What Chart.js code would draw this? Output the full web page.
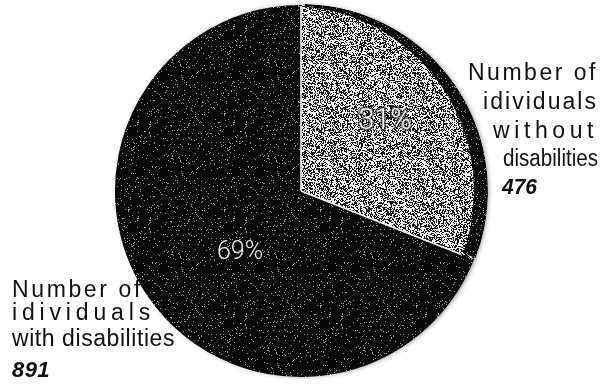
<!DOCTYPE html>
<html>
<head>
<meta charset="utf-8">
<script src="https://cdn.jsdelivr.net/npm/chart.js@4.4.1/dist/chart.umd.min.js"></script>
<style>
  html, body { margin: 0; padding: 0; background: #fff; }
  #pie { display: block; }
</style>
</head>
<body>
<canvas id="pie" width="604" height="389"></canvas>
<script>
// Categories (multi-line), share of the pie in percent, and head counts
const categories = [
  ['Number of', 'idividuals', 'without', 'disabilities'],
  ['Number of', 'idividuals', 'with disabilities']
];
const shares = [31, 69];
const counts = [476, 891];

// Grainy fill, like a photocopied screen tone
function grainPattern(dark, light, ratio, seed) {
  const c = document.createElement('canvas');
  c.width = 96; c.height = 96;
  const g = c.getContext('2d');
  const img = g.createImageData(96, 96);
  for (let j = 0; j < 96; j++) {
    for (let i = 0; i < 96; i++) {
      const s = Math.sin((i + seed) * 12.9898 + (j + seed * 3) * 78.233) * 43758.5453;
      const v = s - Math.floor(s);
      const col = v < ratio ? dark : light;
      const k = (j * 96 + i) * 4;
      img.data[k] = img.data[k + 1] = img.data[k + 2] = col;
      img.data[k + 3] = 255;
    }
  }
  g.putImageData(img, 0, 0);
  return g.createPattern(c, 'repeat');
}

const ctxMain = document.getElementById('pie').getContext('2d');
const lightTone = grainPattern(25, 240, 0.47, 1);
const darkTone = grainPattern(8, 150, 0.95, 7);

// draw text stretched or squeezed to a given width, left edge at x
function fitText(ctx, text, x, y, width) {
  ctx.save();
  ctx.letterSpacing = '0px';
  const w0 = ctx.measureText(text).width;
  ctx.textAlign = 'left';
  if (width >= w0) {
    ctx.letterSpacing = ((width - w0) / text.length) + 'px';
    ctx.fillText(text, x, y);
  } else {
    ctx.translate(x, y);
    ctx.scale(width / w0, 1);
    ctx.fillText(text, 0, 0);
  }
  ctx.restore();
}

const pieDecor = {
  id: 'pieDecor',
  beforeDatasetsDraw(chart) {
    const arc = chart.getDatasetMeta(0).data[0];
    const ctx = chart.ctx;
    // soft fuzzy rim around the disc
    ctx.save();
    ctx.shadowColor = 'rgba(0,0,0,0.5)';
    ctx.shadowBlur = 5;
    ctx.shadowOffsetX = 2;
    ctx.fillStyle = '#0a0a0a';
    ctx.beginPath();
    ctx.arc(arc.x, arc.y, arc.outerRadius - 1, 0, Math.PI * 2);
    ctx.fill();
    ctx.restore();
  },
  afterDatasetsDraw(chart) {
    const meta = chart.getDatasetMeta(0);
    const arc = meta.data[0];
    const ctx = chart.ctx;
    const R = arc.outerRadius;

    // dark crescent along the outer edge of the light wedge
    ctx.save();
    ctx.beginPath();
    ctx.moveTo(arc.x, arc.y);
    ctx.arc(arc.x, arc.y, R + 1, arc.startAngle + 0.02, arc.endAngle - 0.01);
    ctx.closePath();
    ctx.clip();
    ctx.beginPath();
    ctx.arc(arc.x, arc.y, R + 1, 0, Math.PI * 2);
    ctx.arc(arc.x - 12, arc.y, R - 1, 0, Math.PI * 2, true);
    ctx.fillStyle = darkTone;
    ctx.fill('evenodd');
    ctx.restore();

    // white radial edges of the light wedge
    ctx.save();
    ctx.strokeStyle = '#f2f2f2';
    ctx.lineWidth = 1.6;
    [arc.startAngle, arc.endAngle].forEach((a, i) => {
      const len = i === 0 ? R - 1 : R - 14;
      ctx.beginPath();
      ctx.moveTo(arc.x, arc.y);
      ctx.lineTo(arc.x + Math.cos(a) * len, arc.y + Math.sin(a) * len);
      ctx.stroke();
    });
    ctx.restore();

    // percentages inside the slices
    ctx.save();
    ctx.textBaseline = 'middle';
    ctx.textAlign = 'center';
    ctx.font = '300 29px Roboto, "Liberation Sans", sans-serif';
    ctx.lineJoin = 'round';
    ctx.lineWidth = 4;
    ctx.strokeStyle = 'rgba(30,30,30,0.55)';
    ctx.strokeText(shares[0] + '%', 385, 122);
    ctx.fillStyle = '#f4f4f4';
    ctx.fillText(shares[0] + '%', 385, 122);
    ctx.font = '300 25px Roboto, "Liberation Sans", sans-serif';
    ctx.fillStyle = '#ececec';
    ctx.fillText(shares[1] + '%', 240, 253);
    ctx.restore();

    // category labels with counts
    ctx.save();
    ctx.fillStyle = '#111';
    ctx.textBaseline = 'middle';
    ctx.font = '23px "Liberation Sans", Arial, sans-serif';
    const rightW = [130, 115, 105, 95];
    const rightY = [74, 103, 132, 160];
    categories[0].forEach((line, i) => {
      fitText(ctx, line, 598 - rightW[i], rightY[i], rightW[i]);
    });
    const leftW = [131, 143, 163];
    const leftY = [291, 314, 340];
    categories[1].forEach((line, i) => {
      fitText(ctx, line, 12, leftY[i], leftW[i]);
    });
    ctx.font = 'italic bold 22px "Liberation Sans", Arial, sans-serif';
    fitText(ctx, String(counts[0]), 502, 188, 35);
    fitText(ctx, String(counts[1]), 12, 371, 38);
    ctx.restore();
  }
};

new Chart(ctxMain, {
  type: 'pie',
  data: {
    labels: categories,
    datasets: [{
      data: shares,
      backgroundColor: [lightTone, darkTone],
      borderWidth: 0
    }]
  },
  options: {
    responsive: false,
    devicePixelRatio: 1,
    animation: false,
    layout: { padding: { top: 5, bottom: 12, left: 0, right: 2 } },
    plugins: {
      legend: { display: false },
      tooltip: { enabled: false }
    }
  },
  plugins: [pieDecor]
});
</script>
</body>
</html>
